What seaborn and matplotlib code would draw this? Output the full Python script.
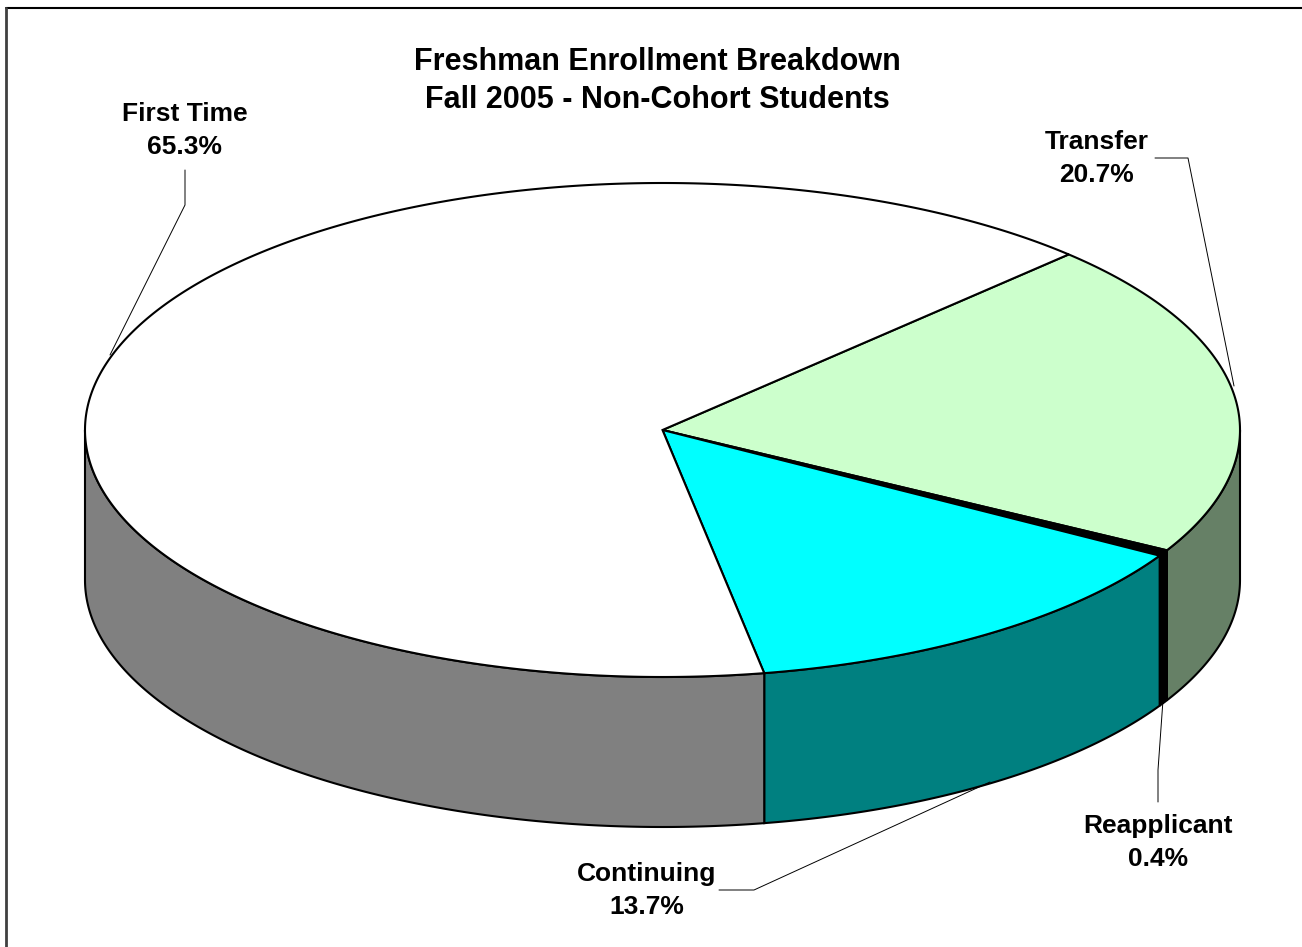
import numpy as np
import matplotlib.pyplot as plt
import seaborn as sns

# Slice data (clockwise from the top-right start)
categories = ["Transfer", "Reapplicant", "Continuing", "First Time"]
shares = [20.7, 0.4, 13.7, 65.3]
top_colors = ["#CCFFCC", "#000000", "#00FFFF", "#FFFFFF"]
side_colors = ["#668066", "#000000", "#008080", "#808080"]

title_lines = ["Freshman Enrollment Breakdown", "Fall 2005 - Non-Cohort Students"]

# label centre (first line) and leader line points, in pixel space
label_pos = {
    "First Time": (185, 114),
    "Transfer": (1097, 142),
    "Reapplicant": (1158, 826),
    "Continuing": (647, 874),
}
leaders = {
    "First Time": [(185, 170), (185, 205), (110, 355)],
    "Transfer": [(1155, 158), (1188, 158), (1234, 386)],
    "Reapplicant": [(1158, 802), (1158, 770), (1163, 700)],
    "Continuing": [(719, 890), (754, 890), (990, 782)],
}

sns.set_theme(style="white")
plt.rcParams["font.family"] = ["Liberation Sans", "DejaVu Sans"]

W, H = 1302, 947
fig = plt.figure(figsize=(W / 100, H / 100), dpi=100)
ax = fig.add_axes([0, 0, 1, 1])
ax.set_xlim(0, W)
ax.set_ylim(H, 0)
ax.set_axis_off()

# pie geometry (pixels)
cx, cy, rx, ry, depth = 662.5, 430, 577.5, 247, 150
start = 45.3
lw = 1.5


def arc(t0, t1, dy=0.0):
    n = max(3, int(abs(t1 - t0) * 4))
    t = np.radians(np.linspace(t0, t1, n))
    return cx + rx * np.cos(t), cy - ry * np.sin(t) + dy


spans = 360 * np.array(shares) / sum(shares)
bounds = []
a = start
for s in spans:
    bounds.append((a - s, a))
    a -= s

# side walls (front half only)
for (lo, hi), col in zip(bounds, side_colors):
    for k in (-1, 0, 1):
        f_lo, f_hi = -180 + 360 * k, 360 * k
        l, h = max(lo, f_lo), min(hi, f_hi)
        if h <= l:
            continue
        xt, yt = arc(l, h)
        xb, yb = arc(h, l, depth)
        ax.fill(np.r_[xt, xb], np.r_[yt, yb], facecolor=col,
                edgecolor="black", linewidth=lw, zorder=1, joinstyle="miter")

# top faces
for (lo, hi), col in zip(bounds, top_colors):
    xa, ya = arc(hi, lo)
    ax.fill(np.r_[cx, xa], np.r_[cy, ya], facecolor=col,
            edgecolor="black", linewidth=lw, zorder=2, joinstyle="miter")

# labels
for name, share in zip(categories, shares):
    x, y = label_pos[name]
    ax.text(x, y, name, ha="center", va="center", fontsize=19,
            fontweight="bold", color="black", zorder=5)
    ax.text(x, y + 33, f"{share:.1f}%", ha="center", va="center", fontsize=19,
            fontweight="bold", color="black", zorder=5)
    pts = np.array(leaders[name])
    ax.plot(pts[:, 0], pts[:, 1], color="black", linewidth=0.7, zorder=4)

# title
ax.text(657, 62, title_lines[0], ha="center", va="center", fontsize=22,
        fontweight="bold", color="black")
ax.text(657, 100, title_lines[1], ha="center", va="center", fontsize=22,
        fontweight="bold", color="black")

# chart-area frame (top and left only visible)
ax.plot([6, W], [8, 8], color="black", linewidth=1.5)
ax.plot([6, 6], [8, H], color="#404040", linewidth=2)

fig.savefig("out.png", dpi=100, facecolor="white")
